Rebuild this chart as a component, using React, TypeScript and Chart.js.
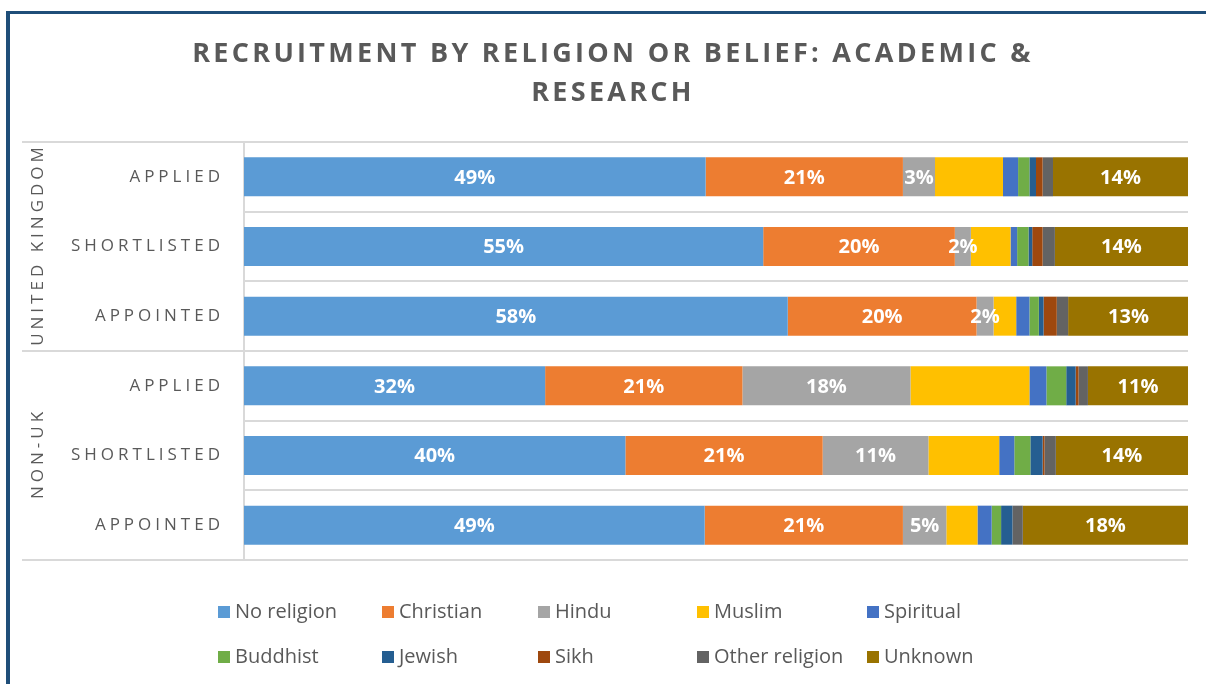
import React, { useEffect, useRef } from "react";
import { Chart, registerables } from "chart.js";

Chart.register(...registerables);

// ---------- DATA ----------
const titleLines = ["RECRUITMENT BY RELIGION OR BELIEF: ACADEMIC &", "RESEARCH"];
const rowLabels = ["APPLIED", "SHORTLISTED", "APPOINTED", "APPLIED", "SHORTLISTED", "APPOINTED"];
const groupLabels = ["UNITED KINGDOM", "NON-UK"];
const groupSizes = [3, 3];
const religions = [
  "No religion",
  "Christian",
  "Hindu",
  "Muslim",
  "Spiritual",
  "Buddhist",
  "Jewish",
  "Sikh",
  "Other religion",
  "Unknown",
];
const noReligion = [48.9, 55.0, 57.6, 31.9, 40.4, 48.8];
const christian = [20.9, 20.3, 20.0, 20.9, 20.9, 21.0];
const hindu = [3.4, 1.7, 1.8, 17.8, 11.2, 4.6];
const muslim = [7.2, 4.2, 2.4, 12.6, 7.5, 3.3];
const spiritual = [1.6, 0.7, 1.4, 1.8, 1.6, 1.5];
const buddhist = [1.2, 1.2, 1.0, 2.1, 1.7, 1.0];
const jewish = [0.7, 0.4, 0.5, 1.0, 1.3, 1.2];
const sikh = [0.7, 1.1, 1.4, 0.3, 0.2, 0.0];
const otherReligion = [1.1, 1.3, 1.2, 1.0, 1.2, 1.1];
const unknown = [14.3, 14.1, 12.8, 10.6, 14.0, 17.5];
const seriesValues = [noReligion, christian, hindu, muslim, spiritual, buddhist, jewish, sikh, otherReligion, unknown];
const labelledSeries = [0, 1, 2, 9];

// ---------- STYLE ----------
const colors = [
  "#5B9BD5",
  "#ED7D31",
  "#A5A5A5",
  "#FFC000",
  "#4472C4",
  "#70AD47",
  "#255E91",
  "#9E480E",
  "#636363",
  "#997300",
];
const FONT = '"Open Sans", "DejaVu Sans", sans-serif';
const TEXT = "#595959";
const GRID = "#D9D9D9";
const FRAME = "#1F4E79";

const decorPlugin = {
  id: "decor",
  beforeDatasetsDraw(chart: any) {
    const ctx = chart.ctx as CanvasRenderingContext2D;
    const area = chart.chartArea;
    const n = rowLabels.length;
    const step = (area.bottom - area.top) / n;
    ctx.save();
    ctx.strokeStyle = GRID;
    ctx.lineWidth = 2;
    let idx = 0;
    const groupEnds = new Set<number>();
    groupSizes.forEach((s) => {
      idx += s;
      groupEnds.add(idx);
    });
    for (let i = 0; i <= n; i++) {
      const y = Math.round(area.top + i * step);
      const full = i === 0 || groupEnds.has(i);
      ctx.beginPath();
      ctx.moveTo(full ? 22 : area.left, y);
      ctx.lineTo(area.right, y);
      ctx.stroke();
    }
    ctx.beginPath();
    ctx.moveTo(area.left, area.top);
    ctx.lineTo(area.left, area.bottom);
    ctx.stroke();
    ctx.restore();
  },
  afterDatasetsDraw(chart: any) {
    const ctx = chart.ctx as CanvasRenderingContext2D;
    ctx.save();
    ctx.fillStyle = "#FFFFFF";
    ctx.font = `bold 20px ${FONT}`;
    ctx.textAlign = "center";
    ctx.textBaseline = "middle";
    labelledSeries.forEach((di) => {
      const meta = chart.getDatasetMeta(di);
      meta.data.forEach((el: any, j: number) => {
        const v = seriesValues[di][j];
        if (!v) return;
        const cx = (el.x + el.base) / 2;
        ctx.fillText(`${Math.round(v)}%`, cx, el.y + 1);
      });
    });
    ctx.restore();
  },
  afterDraw(chart: any) {
    const ctx = chart.ctx as CanvasRenderingContext2D;
    const area = chart.chartArea;
    const n = rowLabels.length;
    const step = (area.bottom - area.top) / n;
    ctx.save();
    // frame
    ctx.fillStyle = FRAME;
    ctx.fillRect(6, 11, 1200, 3);
    ctx.fillRect(6, 11, 4, 673);
    // title
    ctx.fillStyle = TEXT;
    ctx.font = `bold 27px ${FONT}`;
    (ctx as any).letterSpacing = "3.3px";
    ctx.textAlign = "center";
    ctx.textBaseline = "alphabetic";
    titleLines.forEach((t, i) => ctx.fillText(t, 613, 62 + i * 39));
    // row labels
    ctx.font = `17px ${FONT}`;
    (ctx as any).letterSpacing = "4px";
    ctx.textAlign = "right";
    ctx.textBaseline = "middle";
    rowLabels.forEach((l, i) => {
      ctx.fillText(l, 224, area.top + (i + 0.5) * step);
    });
    // group labels
    let start = 0;
    groupLabels.forEach((g, gi) => {
      const size = groupSizes[gi];
      const cy = area.top + (start + size / 2) * step;
      ctx.save();
      ctx.translate(38, cy);
      ctx.rotate(-Math.PI / 2);
      ctx.textAlign = "center";
      ctx.textBaseline = "middle";
      ctx.fillText(g, 2, 0);
      ctx.restore();
      start += size;
    });
    // legend
    (ctx as any).letterSpacing = "0px";
    ctx.font = `20px ${FONT}`;
    ctx.textAlign = "left";
    ctx.textBaseline = "middle";
    const colX = [218, 382, 538, 697, 867];
    const rowY = [612, 657];
    religions.forEach((r, i) => {
      const x = colX[i % 5];
      const y = rowY[Math.floor(i / 5)];
      ctx.fillStyle = colors[i];
      ctx.fillRect(x, y - 6, 12, 12);
      ctx.fillStyle = TEXT;
      ctx.fillText(r, x + 17, y);
    });
    ctx.restore();
  },
};

export default function App() {
  const canvasRef = useRef<HTMLCanvasElement | null>(null);

  useEffect(() => {
    document.body.style.margin = "0";
    let chart: Chart | null = null;
    let cancelled = false;
    const fontsReady = Promise.all([
      document.fonts.load(`bold 27px "Open Sans"`),
      document.fonts.load(`17px "Open Sans"`),
    ]).catch(() => null);
    fontsReady.then(() => {
      if (cancelled || !canvasRef.current) return;
      chart = new Chart(canvasRef.current, {
        type: "bar",
        data: {
          labels: rowLabels,
          datasets: religions.map((r, i) => ({
            label: r,
            data: seriesValues[i],
            backgroundColor: colors[i],
            borderWidth: 0,
            barPercentage: 0.56,
            categoryPercentage: 1,
          })),
        },
        options: {
          indexAxis: "y",
          responsive: false,
          animation: false,
          devicePixelRatio: 1,
          layout: { padding: { left: 244, top: 142, right: 18, bottom: 124 } },
          scales: {
            x: { display: false, stacked: true, min: 0, max: 100 },
            y: { display: false, stacked: true },
          },
          plugins: {
            legend: { display: false },
            title: { display: false },
            tooltip: { enabled: false },
          },
        },
        plugins: [decorPlugin],
      });
    });
    return () => {
      cancelled = true;
      if (chart) chart.destroy();
    };
  }, []);

  return (
    <div style={{ width: 1206, height: 684, position: "relative", background: "#fff" }}>
      <canvas ref={canvasRef} width={1206} height={684} style={{ display: "block" }} />
    </div>
  );
}
